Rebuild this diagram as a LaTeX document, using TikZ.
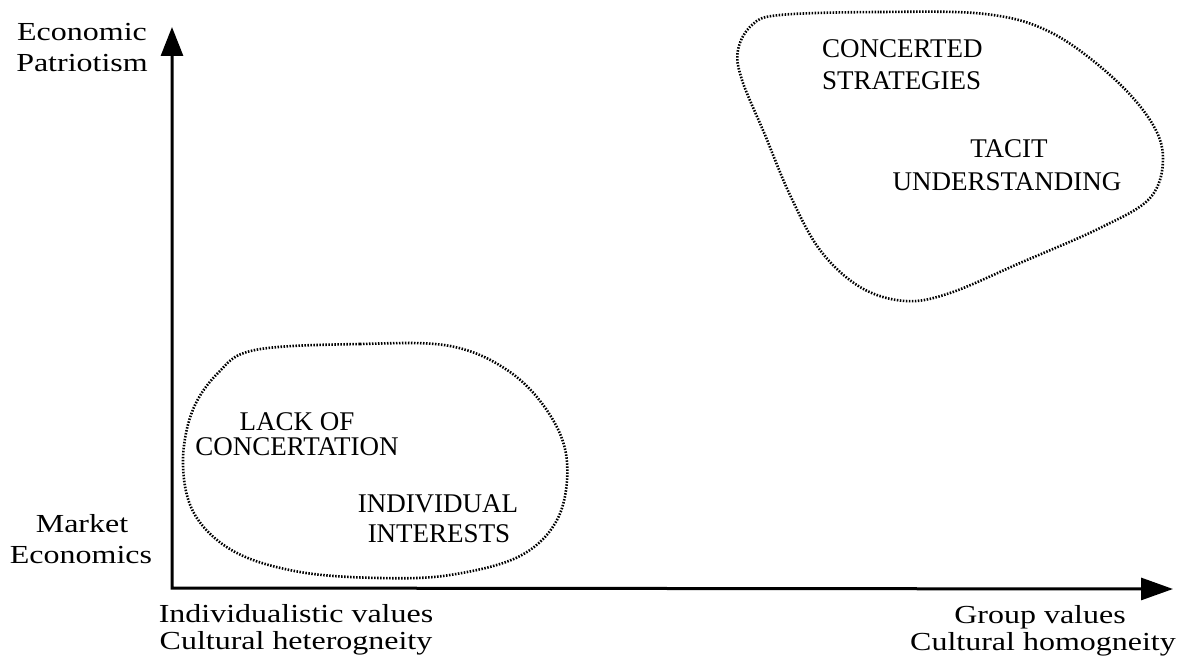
\documentclass[tikz,border=0pt]{standalone}
\usepackage{fontspec}
\setmainfont{Liberation Serif}
\newfontfamily\axisfont{Liberation Serif}[FakeStretch=1.23]
\usetikzlibrary{arrows.meta}
\begin{document}
\begin{tikzpicture}[x=1pt,y=-1pt,
  axislabel/.style={font=\axisfont\fontsize{26}{28}\selectfont, inner sep=0pt, anchor=base},
  blobtext/.style={font=\fontsize{27}{29}\selectfont, inner sep=0pt, anchor=base},
  blob/.style={line width=2.6pt, dash pattern=on 1.5pt off 1.5pt},
  axis/.style={line width=3pt, line join=miter,
    {Triangle[length=29pt,width=22pt]}-{Triangle[length=32pt,width=22pt]}}]
\useasboundingbox (0,0) rectangle (1180,671);

% axes
\coordinate (O) at (172,588);
\coordinate (Ytip) at (172,27);
\coordinate (Xtip) at (1173,589);
\draw[axis] (Ytip) -- (O) -- (Xtip);

% axis labels
\node[axislabel] (econ1) at (82,41) {Economic};
\node[axislabel] (econ2) at (82,72) {Patriotism};
\node[axislabel] (mkt1) at (82,532) {Market};
\node[axislabel] (mkt2) at (81,563) {Economics};
\node[axislabel] (ind1) at (296,622) {Individualistic values};
\node[axislabel] (ind2) at (296,649) {Cultural heterogneity};
\node[axislabel] (grp1) at (1040,623) {Group values};
\node[axislabel] (grp2) at (1043,650) {Cultural homogneity};

% lower-left blob
\draw[blob] plot[smooth cycle, tension=0.6] coordinates {
  (255,350) (360,344) (450,346) (510,372) (550,415) (567,462)
  (558,518) (520,556) (450,575) (380,578) (300,572) (235,552)
  (195,515) (183,465) (192,412) (218,373)};

% upper-right blob
\draw[blob] plot[smooth cycle, tension=0.6] coordinates {
  (780,15) (880,12) (985,14) (1050,32) (1110,75) (1150,120)
  (1163,158) (1150,198) (1100,228) (1020,263) (950,293) (905,301)
  (860,287) (820,250) (790,195) (765,135) (742,80) (738,50) (752,25)};

% blob texts
\node[blobtext] (lack1) at (297,430) {LACK OF};
\node[blobtext] (lack2) at (297,455) {CONCERTATION};
\node[blobtext] (ind3) at (438,512) {INDIVIDUAL};
\node[blobtext] (ind4) at (439,542) {INTERESTS};
\node[blobtext, anchor=base west] (conc1) at (822,58) {CONCERTED};
\node[blobtext, anchor=base west] (conc2) at (822,90) {STRATEGIES};
\node[blobtext] (tac1) at (1009,158) {TACIT};
\node[blobtext] (tac2) at (1007,190) {UNDERSTANDING};
\end{tikzpicture}
\end{document}
